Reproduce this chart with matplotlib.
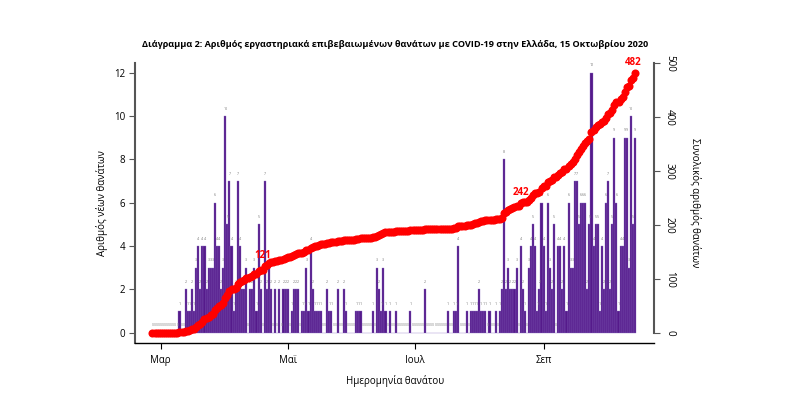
import matplotlib
matplotlib.use("Agg")
import matplotlib.pyplot as plt
import matplotlib.dates as mdates
import numpy as np
import pandas as pd

plt.rcParams["font.family"] = ["Open Sans", "DejaVu Sans"]

START_DATE = "2020-02-26"

# daily deaths by date of death
FEB = [0, 0, 0, 0]
MAR = [0, 0, 0, 0, 0, 0, 0, 0, 0, 1, 0, 0, 2, 1, 1, 2, 1, 3, 4, 2,
       4, 4, 2, 3, 3, 3, 6, 4, 4, 2, 3]
APR = [10, 5, 7, 4, 1, 2, 7, 4, 2, 2, 3, 0, 2, 2, 3, 1, 5, 2, 0, 7,
       2, 3, 2, 0, 2, 0, 2, 0, 2, 2]
MAY = [2, 0, 1, 2, 2, 2, 0, 1, 1, 3, 1, 4, 2, 1, 1, 1, 1, 0, 0, 2,
       1, 1, 0, 0, 2, 0, 0, 2, 1, 0, 0]
JUN = [0, 0, 1, 1, 1, 0, 0, 0, 0, 0, 1, 0, 3, 2, 1, 3, 1, 0, 1, 0,
       0, 1, 0, 0, 0, 0, 0, 0, 1, 0]
JUL = [0, 0, 0, 0, 0, 2, 0, 0, 0, 0, 0, 0, 0, 0, 0, 0, 1, 0, 0, 1,
       1, 4, 0, 0, 0, 1, 0, 1, 1, 1, 1]
AUG = [2, 1, 1, 1, 0, 1, 0, 0, 1, 0, 1, 2, 8, 2, 3, 2, 2, 2, 3, 0,
       4, 2, 1, 0, 3, 4, 5, 4, 1, 2, 6]
SEP = [4, 1, 6, 3, 2, 5, 0, 4, 4, 2, 4, 1, 6, 3, 3, 7, 7, 5, 6, 6,
       6, 2, 5, 12, 4, 5, 5, 1, 4, 2]
OCT = [6, 7, 2, 5, 9, 6, 1, 4, 4, 9, 9, 3, 10, 5, 9]

CUM_LABELS = [121, 242, 482]

MONTH_TICKS = ["2020-03-01", "2020-05-01", "2020-07-01", "2020-09-01"]
MONTH_NAMES = ["Μαρ", "Μαϊ", "Ιουλ", "Σεπ"]

TITLE = ("Διάγραμμα 2: Αριθμός εργαστηριακά επιβεβαιωμένων θανάτων με "
         "COVID-19 στην Ελλάδα, 15 Οκτωβρίου 2020")

BAR_COLOR = "#551A8B"
EDGE_COLOR = "#8a6cc0"
DOT_COLOR = "#ff0000"
AXIS_GREY = "#555555"

daily = np.array(FEB + MAR + APR + MAY + JUN + JUL + AUG + SEP + OCT)
dates = pd.date_range(START_DATE, periods=len(daily), freq="D")
x = mdates.date2num(dates)
cumulative = np.cumsum(daily)

fig = plt.figure(figsize=(7.93, 3.98), dpi=100)
ax = fig.add_axes([0.1702, 0.1382, 0.6549, 0.7035])
ax2 = ax.twinx()

ax.bar(x, daily, width=1.0, color=BAR_COLOR, edgecolor=EDGE_COLOR,
       linewidth=0.25, zorder=2)
for xi, v in zip(x, daily):
    if v == 0:
        ax.text(xi, 0.25, "0", fontsize=2.6, color="#888888",
                ha="center", va="bottom", zorder=3)
    else:
        ax.text(xi, v + 0.25, str(v), fontsize=2.6, color="#777777",
                ha="center", va="bottom", zorder=3)

ax2.plot(x, cumulative, "o", color=DOT_COLOR, markersize=5.8,
         markeredgewidth=0, zorder=4)
for lab in CUM_LABELS:
    i = int(np.argmax(cumulative >= lab))
    ax2.text(x[i] - 1, cumulative[i] + 9, str(lab), color=DOT_COLOR,
             fontsize=7, fontweight="bold", ha="center", va="bottom",
             zorder=5)

mar1 = mdates.date2num(pd.Timestamp("2020-03-01"))
ax.set_xlim(mar1 - 12.4, mar1 + 237.2)
ax.set_ylim(-0.475, 12.45)
ax2.set_ylim(-18.6, 500.4)

ax.set_xticks(mdates.date2num(pd.to_datetime(MONTH_TICKS)))
ax.set_xticklabels(MONTH_NAMES, fontsize=7)
ax.set_yticks(range(0, 13, 2))
ax.tick_params(axis="y", labelsize=7, length=4, color=AXIS_GREY, pad=3)
ax.tick_params(axis="x", length=4, pad=5)
ax2.set_yticks(range(0, 501, 100))
ax2.tick_params(axis="y", labelsize=7, length=4, color=AXIS_GREY, pad=3)
for t in ax2.get_yticklabels():
    t.set_rotation(270)
    t.set_va("center")

for a in (ax, ax2):
    a.spines["top"].set_visible(False)
ax.spines["right"].set_visible(False)
ax2.spines["left"].set_visible(False)
ax2.spines["bottom"].set_visible(False)
ax.spines["left"].set_color(AXIS_GREY)
ax.spines["left"].set_linewidth(1.5)
ax2.spines["right"].set_color(AXIS_GREY)
ax2.spines["right"].set_linewidth(1.5)
ax2.spines["right"].set_bounds(0, 500)
ax.spines["bottom"].set_linewidth(1.0)

ax.set_ylabel("Αριθμός νέων θανάτων", fontsize=7, labelpad=4)
ax2.set_ylabel("Συνολικός αριθμός θανάτων", fontsize=7, rotation=270,
               labelpad=10, va="bottom")
ax.set_xlabel("Ημερομηνία θανάτου", fontsize=7, labelpad=6)
fig.text(0.498, 0.887, TITLE, fontsize=6.6, fontweight="bold",
         ha="center", va="center")

fig.savefig("out.png", dpi=100)
